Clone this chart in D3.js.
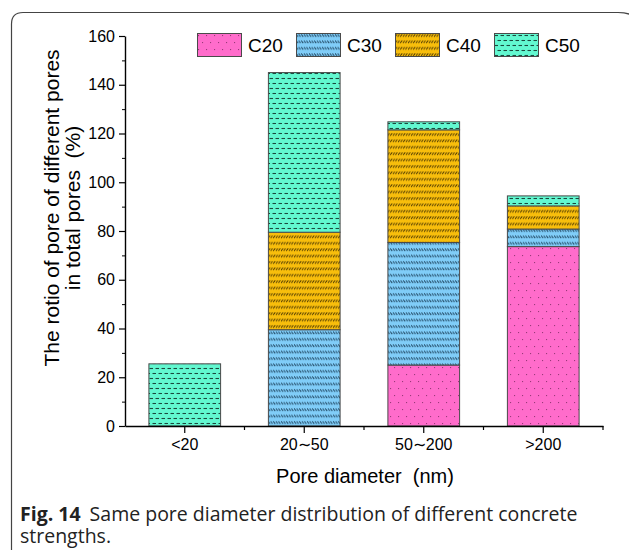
<!DOCTYPE html>
<html>
<head>
<meta charset="utf-8">
<script src="https://cdn.jsdelivr.net/npm/d3@7/dist/d3.min.js"></script>
<style>
  html, body { margin: 0; padding: 0; background: #fff; }
  svg { display: block; }
</style>
</head>
<body>
<svg id="chart" width="629" height="550"></svg>
<script>
// Pore-size classes (nm) and the share of each concrete grade (%)
const categories = ["<20", "20\u223C50", "50\u223C200", ">200"];
const seriesNames = ["C20", "C30", "C40", "C50"];
const c20 = [0, 0, 25.0, 73.6];
const c30 = [0, 39.5, 50.3, 7.2];
const c40 = [0, 40.0, 46.2, 9.5];
const c50 = [25.5, 65.5, 3.3, 4.1];
const yTicks = [0, 20, 40, 60, 80, 100, 120, 140, 160];

const seriesValues = [c20, c30, c40, c50];
const colors = ["#ff6ccb", "#80cdf8", "#f8be0c", "#62f8d0"];
const markColors = ["#9a3a7a", "#1a3f5a", "#4a3600", "#1a4a3e"];

const svg = d3.select("#chart");
const W = 629, H = 550;
const margin = { left: 125, right: 26, top: 36, bottom: 124 };
const plotW = W - margin.left - margin.right;
const plotH = H - margin.top - margin.bottom;
const font = "'Liberation Sans', Arial, sans-serif";

// Panel frame around the figure
svg.append("path")
  .attr("d", "M11.5,560 L11.5,24 Q11.5,12.5 23,12.5 L618,12.5 Q640,12.5 640,30")
  .attr("fill", "none").attr("stroke", "#444").attr("stroke-width", 1.2);

// Fill patterns: dots, back hatch, forward hatch, dashes
const defs = svg.append("defs");
function pattern(id, w, h, color) {
  const p = defs.append("pattern").attr("id", id)
    .attr("patternUnits", "userSpaceOnUse").attr("width", w).attr("height", h);
  p.append("rect").attr("width", w).attr("height", h).attr("fill", color);
  return p;
}
// C20 dots (staggered)
{
  const p = pattern("pat0", 8, 14, colors[0]);
  p.append("rect").attr("x", 1).attr("y", 2).attr("width", 1.1).attr("height", 1.1).attr("fill", markColors[0]);
  p.append("rect").attr("x", 5).attr("y", 9).attr("width", 1.1).attr("height", 1.1).attr("fill", markColors[0]);
}
// C30 rows of back-slanted hatching
{
  const p = pattern("pat1", 2.6, 6.4, colors[1]);
  p.append("line").attr("x1", 0).attr("y1", 1.2).attr("x2", 2).attr("y2", 3.8)
    .attr("stroke", markColors[1]).attr("stroke-width", 0.9);
}
// C40 rows of forward-slanted hatching
{
  const p = pattern("pat2", 2.6, 6.4, colors[2]);
  p.append("line").attr("x1", 0).attr("y1", 3.8).attr("x2", 2).attr("y2", 1.2)
    .attr("stroke", markColors[2]).attr("stroke-width", 0.9);
}
// C50 rows of short dashes
{
  const p = pattern("pat3", 6, 10, colors[3]);
  const dash = (x1, x2, yy) => p.append("line").attr("x1", x1).attr("y1", yy).attr("x2", x2).attr("y2", yy)
    .attr("stroke", markColors[3]).attr("stroke-width", 1.1);
  dash(0.5, 4, 2.5);
  dash(3.5, 7, 7.5);
  dash(-2.5, 1, 7.5);
}

const g = svg.append("g").attr("transform", `translate(${margin.left},${margin.top})`);

const x = d3.scaleBand().domain(categories).range([0, plotW]).padding(0);
const y = d3.scaleLinear().domain([0, 160]).range([plotH, 0]);
const barW = x.bandwidth() * 0.6;

// Stack the series
const rows = categories.map((c, i) => {
  const r = { cat: c };
  seriesNames.forEach((s, k) => { r[s] = seriesValues[k][i]; });
  return r;
});
const stacked = d3.stack().keys(seriesNames)(rows);

stacked.forEach((layer, k) => {
  g.append("g").selectAll("rect")
    .data(layer.filter(d => d[1] - d[0] > 0))
    .join("rect")
    .attr("x", d => x(d.data.cat) + (x.bandwidth() - barW) / 2)
    .attr("y", d => y(d[1]))
    .attr("width", barW)
    .attr("height", d => y(d[0]) - y(d[1]))
    .attr("fill", `url(#pat${k})`)
    .attr("stroke", "#4a4a4a")
    .attr("stroke-width", 1);
});

// Y axis with major and minor ticks
const yAxis = g.append("g")
  .call(d3.axisLeft(y).tickValues(yTicks).tickSize(6).tickPadding(4).tickFormat(d3.format("d")));
g.append("g")
  .call(d3.axisLeft(y).tickValues(d3.range(10, 160, 20)).tickSize(3).tickFormat(""))
  .select(".domain").remove();

// X axis: major ticks at class centres, minor ticks at class borders
const xAxis = g.append("g").attr("transform", `translate(0,${plotH})`)
  .call(d3.axisBottom(x).tickSize(7).tickPadding(6));
const borders = d3.range(1, categories.length + 1).map(i => i * x.step());
g.append("g").attr("transform", `translate(0,${plotH})`)
  .selectAll("line").data(borders).join("line")
  .attr("x1", d => d).attr("x2", d => d).attr("y1", 0).attr("y2", 4)
  .attr("stroke", "#000").attr("stroke-width", 1.2);

[yAxis, xAxis].forEach(a => {
  a.attr("font-family", font).attr("font-size", 16);
  a.selectAll(".domain").attr("stroke-width", 1.4);
  a.selectAll(".tick line").attr("stroke-width", 1.2);
  a.selectAll("text").attr("fill", "#000");
});
svg.selectAll(".domain").each(function () {
  // plain axis lines without end caps
  const sel = d3.select(this);
  const d = sel.attr("d");
  sel.attr("d", d.replace(/M-?[\d.]+,([\d.]+)H0.5V([\d.]+)H-?[\d.]+/, "M0.5,$1V$2")
                 .replace(/M([\d.]+),[\d.]+V0.5H([\d.]+)V[\d.]+/, "M$1,0.5H$2"));
});

// Axis titles
svg.append("text")
  .attr("x", margin.left + plotW / 2 + 1).attr("y", 483)
  .attr("text-anchor", "middle").attr("font-family", font).attr("font-size", 20)
  .text("Pore diameter\u00A0\u00A0(nm)");

const yt = svg.append("text")
  .attr("transform", `translate(59,208) rotate(-90)`)
  .attr("text-anchor", "middle").attr("font-family", font).attr("font-size", 21);
yt.append("tspan").attr("x", 0).attr("y", 0).text("The rotio of pore of different pores");
yt.append("tspan").attr("x", 0).attr("y", 21).text("in total pores\u00A0\u00A0(%)");

// Legend
const legend = svg.append("g").attr("transform", "translate(197,33)");
seriesNames.forEach((s, k) => {
  const lg = legend.append("g").attr("transform", `translate(${k * 99},0)`);
  lg.append("rect").attr("x", 0.5).attr("y", 0.5).attr("width", 44).attr("height", 23)
    .attr("fill", `url(#pat${k})`).attr("stroke", "#4a4a4a").attr("stroke-width", 1);
  lg.append("text").attr("x", 51).attr("y", 19)
    .attr("font-family", font).attr("font-size", 19).text(s);
});

// Figure caption
const cap = svg.append("text").attr("font-family", "'Open Sans', sans-serif")
  .attr("font-size", 19.5).attr("fill", "#222");
cap.append("tspan").attr("x", 20).attr("y", 521).attr("font-weight", "bold").text("Fig. 14");
cap.append("tspan").attr("dx", 9).text("Same pore diameter distribution of different concrete");
cap.append("tspan").attr("x", 20).attr("y", 543).text("strengths.");
</script>
</body>
</html>
